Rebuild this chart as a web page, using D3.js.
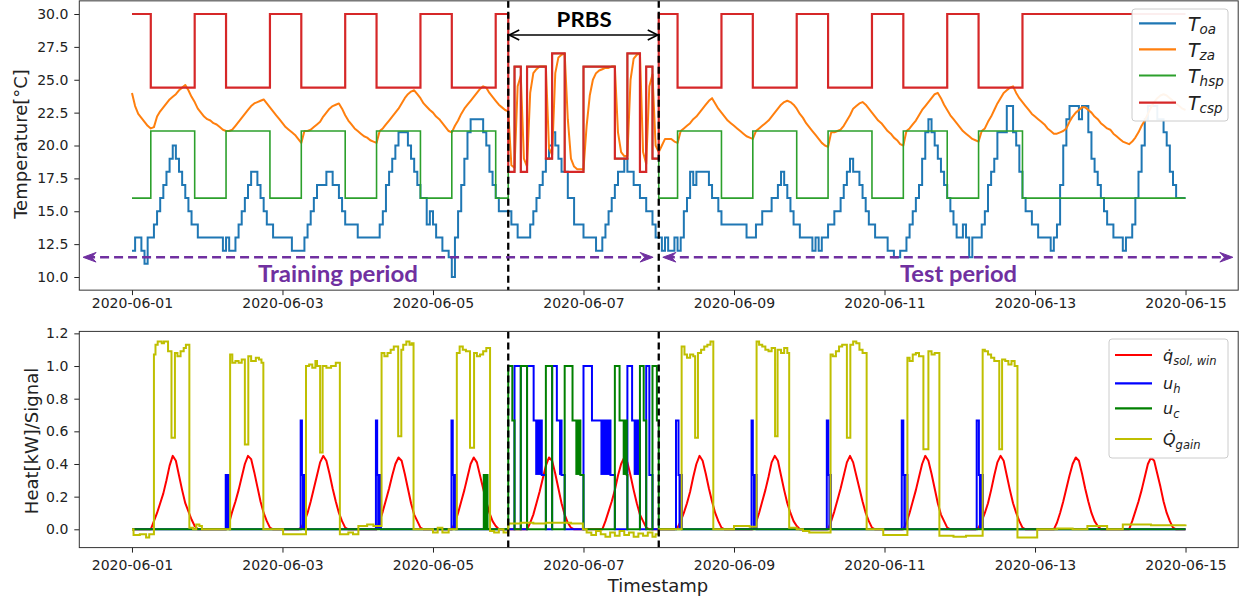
<!DOCTYPE html>
<html><head><meta charset="utf-8">
<script src="https://cdn.jsdelivr.net/npm/d3@7"></script>
<style>
body{margin:0;background:#fff;}
svg{display:block;}
</style></head><body>
<svg id="c" width="1242" height="603"></svg>
<script>
// ---------------- DATA ----------------
const xTickLabels = ["2020-06-01","2020-06-03","2020-06-05","2020-06-07","2020-06-09","2020-06-11","2020-06-13","2020-06-15"];
const yTopTicks = [10,12.5,15,17.5,20,22.5,25,27.5,30];
const yBotTicks = [0,0.2,0.4,0.6,0.8,1.0,1.2];

// Outdoor air temperature, hourly, one row per day (06-01 .. 06-14)
const toaDays = [
[12,13,13,12,11,13,13,14,15,16,17,18,19,20,19,18,17,16,15,14,14,13,13,13],
[13,13,13,13,13,12,13,12,12,13,14,15,16,17,18,18,17,16,15,14,14,13,13,13],
[13,13,13,12,12,12,12,13,14,15,16,17,17,17,18,18,17,17,16,15,14,14,14,14],
[13,13,13,13,13,13,13,14,15,17,18,19,20,21,21,21,20,19,18,17,16,16,14,15],
[14,13,13,12,12,11.5,10,13,15,17,19,21,22,22,22,22,21,20,18,17,16,15,15,15],
[15,14,14,13,13,13,13,14,15,16,17,18,19,20,21,20,19,18,18,16,16,14,14,14],
[13,13,13,13,12,12,13,14,15,16,17,18,18,19,18,18,17,17,16,16,15,15,14,13],
[13,12,13,12,12,13,12,13,15,16,18,17,18,18,18,18,17,16,16,15,14,14,14,14],
[14,14,14,14,13,13,13,14,14,15,15,15,16,16,17,18,17,16,15,14,14,13,13,13],
[13,12,13,12,13,13,14,14,15,15,16,17,18,19,18,18,17,16,15,14,14,13,13,13],
[13,12,12,11.5,11.5,12,12,13,14,15,16,17,19,21,22,21,20,19,18,17,16,15,14,13],
[13,14,13,11.5,13,13,13,14,15,17,18,19,21,21,21,23,23,21,20,18,16,15,15,14],
[14,13,13,13,13,12,13,14,17,20,22,23,23,23,22,23,23,21,19,18,17,16,15,14],
[14,13,13,13,12,13,13,14,16,18,20,22,23,23,23,22,22,21,20,18,17,16,16,16]
];
const toaEnd = 16;

// Zone air temperature, hourly, one row per day
const tzaDays = [
[24.0,23.0,22.4,22.1,21.8,21.5,21.3,21.4,22.2,22.6,22.9,23.2,23.5,23.7,23.9,24.2,24.4,24.6,24.2,23.7,23.3,22.8,22.5,22.2],
[22.0,21.9,21.7,21.6,21.4,21.2,21.1,21.1,21.2,21.5,21.8,22.1,22.4,22.7,23.0,23.2,23.3,23.4,23.5,23.2,22.9,22.6,22.3,22.0],
[21.7,21.4,21.2,21.0,20.8,20.5,20.2,21.1,21.1,21.2,21.4,21.6,21.8,22.2,22.5,22.8,23.0,23.1,23.2,22.8,22.3,21.9,21.6,21.3],
[21.1,20.9,20.7,20.6,20.4,20.3,20.2,21.1,21.3,21.6,21.9,22.2,22.5,22.8,23.2,23.6,23.9,24.1,24.2,23.9,23.6,23.2,22.95,22.7],
[22.5,22.2,22.0,21.7,21.4,21.1,21.0,21.5,21.9,22.4,22.8,23.1,23.4,23.7,24.0,24.3,24.5,24.4,24.0,23.7,23.4,23.1,22.9,22.7],
[22.6,18.5,18.3,24.5,25.3,19.0,18.4,24.0,25.5,25.8,26.0,26.0,26.0,19.8,19.3,25.5,26.7,26.9,27.0,22.0,19.0,18.4,18.2,18.2],
[18.2,21.5,23.8,25.0,25.5,25.7,25.8,25.9,25.9,26.0,26.0,21.0,19.5,19.2,19.2,25.0,26.6,26.9,27.0,19.5,18.6,24.5,25.4,20.0],
[19.5,20.0,20.5,20.5,20.5,20.3,20.2,21.1,21.3,21.5,21.7,22.0,22.2,22.5,22.8,23.1,23.4,23.6,23.2,22.8,22.5,22.2,21.9,21.7],
[21.5,21.3,21.1,20.9,20.7,20.6,20.5,21.1,21.3,21.5,21.7,21.9,22.2,22.5,22.8,23.1,23.3,23.4,23.3,23.1,22.8,22.4,22.1,21.7],
[21.4,21.1,20.8,20.5,20.2,20.0,19.9,21.0,21.0,21.1,21.2,21.5,21.9,22.3,22.8,23.0,23.2,23.3,23.1,22.8,22.5,22.2,21.9,21.7],
[21.4,21.1,20.9,20.6,20.4,20.1,20.0,21.1,21.3,21.6,21.9,22.3,22.7,23.0,23.3,23.6,23.9,24.0,23.6,23.1,22.7,22.3,22.0,21.7],
[21.4,21.1,20.9,20.7,20.5,20.4,20.3,21.1,21.3,21.8,22.2,22.7,23.2,23.6,24.0,24.2,24.4,24.5,24.0,23.6,23.3,23.0,22.7,22.4],
[22.2,22.0,21.8,21.6,21.3,21.1,20.9,20.9,21.0,21.1,21.3,21.8,22.2,22.5,22.7,22.9,22.9,22.7,22.5,22.2,22.0,21.7,21.5,21.3],
[21.2,20.9,20.7,20.5,20.3,20.2,20.1,20.3,20.6,21.0,21.5,21.9,22.4,22.9,23.3,23.6,23.8,23.9,23.8,23.6,23.4,23.2,23.0,22.8]
];
const tzaEnd = 22.7;

// Setpoint schedules: [hour since 06-01 00:00, value] (step after)
const thspSteps = [[0,16],[6,21.1],[20,16],[30,21.1],[44,16],[54,21.1],[68,16],[78,21.1],[92,16],[102,21.1],[116,16],
 [120,18],[122,26],[124,18],[126,26],[132,19],[134,27],[138,18],[144,26],[154,19],[158,27],[162,18],[164,26],[166,19],
 [168,16],[174,21.1],[188,16],[198,21.1],[212,16],[222,21.1],[236,16],[246,21.1],[260,16],[270,21.1],[284,16],[336,16]];
const tcspSteps = [[0,30],[6,24.4],[20,30],[30,24.4],[44,30],[54,24.4],[68,30],[78,24.4],[92,30],[102,24.4],[116,30],
 [120,18],[122,26],[124,18],[126,26],[132,19],[134,27],[138,18],[144,26],[154,19],[158,27],[162,18],[164,26],[166,19],
 [168,30],[174,24.4],[188,30],[198,24.4],[212,30],[222,24.4],[236,30],[246,24.4],[260,30],[270,24.4],[284,30],[336,30]];

// Solar heat through windows, hourly, one row per day
const qsolDays = [
[0,0,0,0,0,0,0,0.05,0.10,0.16,0.22,0.30,0.39,0.45,0.42,0.33,0.24,0.16,0.11,0.06,0.02,0,0,0],
[0,0,0,0,0,0,0,0.04,0.11,0.17,0.24,0.32,0.40,0.45,0.43,0.35,0.26,0.17,0.10,0.05,0.01,0,0,0],
[0,0,0,0,0,0,0.01,0.05,0.10,0.17,0.25,0.33,0.41,0.45,0.42,0.34,0.25,0.17,0.10,0.05,0.01,0,0,0],
[0,0,0,0,0,0,0,0.05,0.11,0.18,0.25,0.33,0.40,0.44,0.42,0.34,0.25,0.16,0.09,0.05,0.01,0,0,0],
[0,0,0,0,0,0,0,0.04,0.10,0.17,0.24,0.32,0.40,0.44,0.41,0.33,0.25,0.17,0.10,0.05,0.02,0,0,0],
[0,0,0,0,0,0,0,0.04,0.09,0.16,0.23,0.31,0.39,0.44,0.42,0.34,0.25,0.16,0.09,0.04,0.01,0,0,0],
[0,0,0,0,0,0,0,0.05,0.11,0.17,0.24,0.33,0.40,0.44,0.41,0.33,0.24,0.16,0.09,0.05,0.01,0,0,0],
[0,0,0,0,0,0,0.01,0.05,0.10,0.16,0.23,0.32,0.40,0.45,0.42,0.34,0.25,0.17,0.10,0.05,0.01,0,0,0],
[0,0,0,0,0,0,0,0.04,0.10,0.17,0.24,0.32,0.41,0.45,0.42,0.33,0.24,0.16,0.10,0.05,0.02,0,0,0],
[0,0,0,0,0,0,0,0.05,0.11,0.18,0.25,0.33,0.41,0.45,0.41,0.33,0.25,0.17,0.10,0.05,0.01,0,0,0],
[0,0,0,0,0,0,0,0.04,0.10,0.17,0.24,0.32,0.40,0.45,0.42,0.34,0.25,0.16,0.09,0.05,0.01,0,0,0],
[0,0,0,0,0,0,0.01,0.05,0.10,0.16,0.24,0.33,0.41,0.45,0.42,0.33,0.24,0.16,0.10,0.05,0.01,0,0,0],
[0,0,0,0,0,0,0,0.04,0.10,0.17,0.25,0.33,0.40,0.44,0.42,0.34,0.25,0.17,0.10,0.05,0.02,0,0,0],
[0,0,0,0,0,0,0,0.05,0.11,0.17,0.24,0.32,0.40,0.44,0.42,0.34,0.26,0.17,0.10,0.05,0.01,0,0,0]
];

// Heating signal u_h: [hour, value] (step after)
const uhSteps = [[0,0],[29.9,0.333],[31.2,0],[53.8,0.667],[54.2,0.333],[55.2,0],[77.8,0.667],[78.2,0.333],[79.4,0],
 [101.9,0.667],[102.3,0.333],[103.4,0],
 [122,1],[124,0],[126,1],[128.1,0.667],[130.7,0.333],[132,0],[134,1],[135.5,0.667],[137,0.333],[138,0],
 [144,1],[146.7,0.667],[152.6,0.333],[154,0],[158,1],[159.5,0.667],[162,0],[164,1],[165,0.333],[166,0],
 [173.5,0.667],[174.3,0.333],[175.4,0],[197.6,0.667],[198,0.333],[199.2,0],[221.6,0.667],[222.1,0.333],[222.9,0],
 [245.5,0.667],[246,0.333],[247.3,0],[269.4,0.667],[270.1,0.333],[271.4,0],[336,0]];
// periods where u_h switches rapidly between two levels: [start h, end h, low, high]
const uhBands = [[29.9,31.2,0,0.333],[54.2,55.2,0,0.333],[78.2,79.4,0,0.333],[102.3,103.4,0,0.333],
 [128.6,130.7,0.333,0.667],[136.2,137.0,0.333,0.667],[149.4,152.6,0.333,0.667],[160,162,0.333,0.667],
 [174.3,175.4,0,0.333],[198,199.2,0,0.333],[222.1,222.9,0,0.333],[246,246.8,0,0.333],[270.1,271.4,0,0.333]];

// Cooling signal u_c
const ucSteps = [[0,0],[112.2,0.333],[112.6,0],[113.0,0.333],[113.4,0],
 [120,1],[121.3,0.667],[122,0],[124,1],[126,0],[132,1],[134,0],[138,1],[140.5,0.667],[143,0.333],[144,0],
 [154,1],[155.5,0.667],[157.8,0.333],[158,0],[162,1],[163.2,0.667],[164,0],[166,1],[167.4,0.667],[168,0],[336,0]];
const ucBands = [[141.4,143,0.333,0.667],[156.5,157.8,0.333,0.667]];

// Internal heat gain Q_gain: [hour, value] (step after)
const qgainSteps = [
[0,0.00],[0.5,-0.035],[2.5,-0.03],[4.5,-0.05],[5.5,-0.03],
[7.0,1.07],[7.5,1.13],[8.2,1.15],[9.5,1.14],[10.2,1.15],[11.5,1.09],[12.6,0.56],[13.7,1.08],[14.5,1.06],[15.5,1.09],[16.5,1.11],[17.2,1.13],
[18.3,0.01],[19.5,0.00],[20.5,0.03],[21.5,0.02],[22.3,0.00],
[31.3,1.07],[32,1.02],[33,1.03],[34,1.02],[35,1.04],[36.0,0.52],[37.1,1.06],[38,1.03],[39.5,1.05],[40.5,1.04],[41.3,1.02],
[41.9,0.00],[48.2,-0.03],
[55.5,1.00],[56.5,1.01],[57.5,0.99],[58.5,1.03],[59.0,1.00],[60.0,0.47],[60.8,1.00],[62,0.99],[63.5,1.00],[65,1.02],
[66.3,-0.03],[69,-0.02],[70.5,-0.03],[72.2,0.02],[75,0.03],[77,0.02],
[79.6,1.08],[80.5,1.06],[81.5,1.08],[82.5,1.10],[83.5,1.12],[84.9,0.57],[85.9,1.10],[86.5,1.13],[87.5,1.15],[88.5,1.13],[89.2,1.14],
[89.8,0.00],[96,-0.02],[97.5,0.01],[99,-0.02],[101,0.00],
[103.6,1.08],[104.5,1.12],[105.5,1.10],[106.5,1.09],[107.8,0.50],[109.1,1.08],[110,1.06],[111,1.07],[112,1.09],[113,1.11],
[114.2,-0.01],[115.5,-0.02],[117,0.00],[118.5,-0.02],
[120,0.035],[124,0.04],[128,0.035],[132,0.04],[136,0.04],[140,0.035],
[143.8,0.00],[145,-0.02],[146.5,-0.035],[148,-0.01],[149.5,-0.03],[151,-0.045],[152.5,-0.02],[154,-0.04],[155.5,-0.01],[157,-0.035],[158.5,-0.02],[160,-0.045],[161.5,-0.025],[163,-0.04],[164.5,-0.02],[166,-0.045],[167,-0.03],
[168,0.00],[171,0.00],
[175.3,1.12],[176.2,1.07],[177,1.05],[178,1.07],[179,1.06],[179.6,0.56],[180.5,1.08],[181.5,1.10],[182.5,1.12],[183.5,1.13],[184.5,1.15],
[185.4,0.00],[192,0.02],[195,0.02],[197,0.015],
[199.2,1.15],[200,1.13],[201,1.12],[202,1.10],[203,1.09],[204,1.11],[205.1,0.57],[205.9,1.10],[207,1.08],[208,1.11],[209,1.08],
[209.6,0.01],[212,0.00],[214,-0.01],[216,-0.02],[219,-0.02],
[222.8,1.07],[223.5,1.06],[224.5,1.09],[225.5,1.12],[226.5,1.13],[228.0,0.56],[229.1,1.13],[230,1.15],[231,1.14],[232,1.10],[233,1.08],
[234.3,0.00],[239.6,-0.035],
[247.3,1.05],[248,1.03],[249,1.07],[250,1.08],[251,1.06],[252.4,0.49],[254.0,1.09],[255,1.07],[256,1.08],
[257.5,-0.04],[262,-0.045],[266,-0.04],
[271.3,1.10],[272,1.09],[273,1.07],[274,1.05],[275,1.03],[276.6,0.49],[277.5,1.04],[278.5,1.03],[279.5,1.01],[280.5,1.03],[281.5,1.00],
[282.4,-0.05],[288.7,0.00],[295,0.005],[300,0.00],[304.7,0.02],[311,0.00],[316,0.03],[325,0.025],[336,0.03]];

// Period markers (hours)
const prbsStart = 120, prbsEnd = 168;

// ---------------- SCALES ----------------
const t0 = Date.UTC(2020,5,1);
const hr = h => new Date(t0 + h*3600000);
const x = d3.scaleUtc().domain([hr(-16.8), hr(352.8)]).range([79.3, 1238.2]);
const yT = d3.scaleLinear().domain([9,31]).range([290.15,0.85]);
const yB = d3.scaleLinear().domain([-0.112,1.212]).range([547.6,331.4]);
const X = h => x(hr(h));

const svg = d3.select("#c");
const FONT = "DejaVu Sans, sans-serif";

function dayPts(days, end){
  const a=[]; days.forEach((r,d)=>r.forEach((v,i)=>a.push([d*24+i,v])));
  if(end!==undefined) a.push([336,end]); return a;
}

// clip paths
const defs = svg.append("defs");
defs.append("clipPath").attr("id","clipT").append("rect")
  .attr("x",x.range()[0]).attr("y",yT.range()[1]).attr("width",x.range()[1]-x.range()[0]).attr("height",yT.range()[0]-yT.range()[1]);
defs.append("clipPath").attr("id","clipB").append("rect")
  .attr("x",x.range()[0]).attr("y",yB.range()[1]).attr("width",x.range()[1]-x.range()[0]).attr("height",yB.range()[0]-yB.range()[1]);

// ---------------- TOP PANEL ----------------
const gT = svg.append("g").attr("clip-path","url(#clipT)");
const stepT = d3.line().x(d=>X(d[0])).y(d=>yT(d[1])).curve(d3.curveStepAfter);
const linT = d3.line().x(d=>X(d[0])).y(d=>yT(d[1]));
const LW = 2.0;
gT.append("path").attr("d",stepT(dayPts(toaDays,toaEnd))).attr("fill","none").attr("stroke","#1f77b4").attr("stroke-width",LW);
gT.append("path").attr("d",linT(dayPts(tzaDays,tzaEnd))).attr("fill","none").attr("stroke","#ff7f0e").attr("stroke-width",LW).attr("stroke-linejoin","round");
gT.append("path").attr("d",stepT(thspSteps)).attr("fill","none").attr("stroke","#2ca02c").attr("stroke-width",LW-0.4);
gT.append("path").attr("d",stepT(tcspSteps)).attr("fill","none").attr("stroke","#d62728").attr("stroke-width",LW+0.2);

// ---------------- BOTTOM PANEL ----------------
const gB = svg.append("g").attr("clip-path","url(#clipB)");
const stepB = d3.line().x(d=>X(d[0])).y(d=>yB(d[1])).curve(d3.curveStepAfter);
const linB = d3.line().x(d=>X(d[0])).y(d=>yB(d[1]));
gB.append("path").attr("d",linB(dayPts(qsolDays,0))).attr("fill","none").attr("stroke","#ff0000").attr("stroke-width",LW).attr("stroke-linejoin","round");
gB.selectAll("rect.uh").data(uhBands).join("rect").attr("class","uh")
  .attr("x",d=>X(d[0])).attr("width",d=>X(d[1])-X(d[0])).attr("y",d=>yB(d[3])).attr("height",d=>yB(d[2])-yB(d[3])).attr("fill","#0000ff");
gB.append("path").attr("d",stepB(uhSteps)).attr("fill","none").attr("stroke","#0000ff").attr("stroke-width",LW);
gB.selectAll("rect.uc").data(ucBands).join("rect").attr("class","uc")
  .attr("x",d=>X(d[0])).attr("width",d=>X(d[1])-X(d[0])).attr("y",d=>yB(d[3])).attr("height",d=>yB(d[2])-yB(d[3])).attr("fill","#008000");
gB.append("path").attr("d",stepB(ucSteps)).attr("fill","none").attr("stroke","#008000").attr("stroke-width",LW);
gB.append("path").attr("d",stepB(qgainSteps)).attr("fill","none").attr("stroke","#bfbf00").attr("stroke-width",LW);

// ---------------- PRBS dashed lines ----------------
[[yT,gT],[yB,gB]].forEach(([ys,g])=>{
  [prbsStart,prbsEnd].forEach(h=>{
    g.append("line").attr("x1",X(h)).attr("x2",X(h)).attr("y1",ys.range()[1]).attr("y2",ys.range()[0])
     .attr("stroke","#000").attr("stroke-width",2.3).attr("stroke-dasharray","7,4");
  });
});

// ---------------- AXES ----------------
const xTicks = xTickLabels.map(s=>new Date(s+"T00:00:00Z"));
function xAxis(y0,pad){
  const g = svg.append("g").attr("transform",`translate(0,${y0})`)
    .call(d3.axisBottom(x).tickValues(xTicks).tickFormat(d3.utcFormat("%Y-%m-%d")).tickSize(5).tickPadding(pad).tickSizeOuter(0));
  g.select(".domain").remove();
  g.attr("font-size",14).attr("font-family",FONT);
  g.selectAll("text").attr("fill","#222");
  g.selectAll("line").attr("stroke","#222");
}
function yAxis(ys,ticks){
  const g = svg.append("g").attr("transform",`translate(${x.range()[0]},0)`)
    .call(d3.axisLeft(ys).tickValues(ticks).tickFormat(d3.format(".1f")).tickSize(5).tickPadding(6).tickSizeOuter(0));
  g.select(".domain").remove();
  g.attr("font-size",14).attr("font-family",FONT);
  g.selectAll("text").attr("fill","#222");
  g.selectAll("line").attr("stroke","#222");
}
xAxis(yT.range()[0],3.2);
xAxis(yB.range()[0],7);
yAxis(yT,yTopTicks);
yAxis(yB,yBotTicks);
[yT,yB].forEach(ys=>{
  svg.append("rect").attr("x",x.range()[0]).attr("y",ys.range()[1]).attr("width",x.range()[1]-x.range()[0])
    .attr("height",ys.range()[0]-ys.range()[1]).attr("fill","none").attr("stroke","#333").attr("stroke-width",1);
});

// axis labels
svg.append("text").attr("transform","translate(26.5,144) rotate(-90)").attr("text-anchor","middle")
  .attr("font-family",FONT).attr("font-size",18).attr("fill","#222").text("Temperature[°C]");
svg.append("text").attr("transform","translate(38,441) rotate(-90)").attr("text-anchor","middle")
  .attr("font-family",FONT).attr("font-size",18).attr("fill","#222").text("Heat[kW]/Signal");
svg.append("text").attr("x",658).attr("y",591.5).attr("text-anchor","middle")
  .attr("font-family",FONT).attr("font-size",18).attr("fill","#222").text("Timestamp");

// ---------------- ANNOTATIONS ----------------
function head(g,tx,ty,dir,len,half,color,filled,sw){
  const bx = tx - dir*len;
  if(filled){
    g.append("path").attr("d",`M${tx},${ty} L${bx},${ty-half} L${tx-dir*len*0.65},${ty} L${bx},${ty+half} Z`)
     .attr("fill",color).attr("stroke",color).attr("stroke-width",1).attr("stroke-linejoin","miter");
  } else {
    g.append("path").attr("d",`M${bx},${ty-half} L${tx},${ty} L${bx},${ty+half}`)
     .attr("fill","none").attr("stroke",color).attr("stroke-width",sw);
  }
}
const ann = svg.append("g");
// PRBS arrow
const ay = yT(28.4);
ann.append("line").attr("x1",X(prbsStart)+1).attr("x2",X(prbsEnd)-1).attr("y1",ay).attr("y2",ay).attr("stroke","#000").attr("stroke-width",1.6);
head(ann,X(prbsStart)+1,ay,-1,10,5,"#000",false,1.6);
head(ann,X(prbsEnd)-1,ay,1,10,5,"#000",false,1.6);
ann.append("text").attr("x",X(144.2)).attr("y",yT(29.03)).attr("text-anchor","middle")
  .attr("font-family","Lato, Open Sans, sans-serif").attr("font-weight","bold").attr("font-size",21)
  .attr("textLength",55).attr("lengthAdjust","spacingAndGlyphs").attr("fill","#000").text("PRBS");
// Training / Test arrows
const py = yT(11.5), PURPLE = "#7030a0";
[[-15.6,166.2],[169.3,351.1]].forEach(([a,b])=>{
  ann.append("line").attr("x1",X(a)+3).attr("x2",X(b)-3).attr("y1",py).attr("y2",py)
    .attr("stroke",PURPLE).attr("stroke-width",2.6).attr("stroke-dasharray","9,5");
  head(ann,X(a),py,-1,13,4.8,PURPLE,true);
  head(ann,X(b),py,1,13,4.8,PURPLE,true);
});
ann.append("text").attr("x",X(65.7)).attr("y",yT(9.62)).attr("text-anchor","middle")
  .attr("font-family","Lato, Open Sans, sans-serif").attr("font-weight","bold").attr("font-size",23)
  .attr("textLength",160).attr("lengthAdjust","spacingAndGlyphs").attr("fill",PURPLE).text("Training period");
ann.append("text").attr("x",X(263.6)).attr("y",yT(9.62)).attr("text-anchor","middle")
  .attr("font-family","Lato, Open Sans, sans-serif").attr("font-weight","bold").attr("font-size",23)
  .attr("textLength",117).attr("lengthAdjust","spacingAndGlyphs").attr("fill",PURPLE).text("Test period");

// ---------------- LEGENDS ----------------
function legend(box, rows, lx1, lx2, tx, fs, sfs, subDy, baseOff){
  const g = svg.append("g");
  g.append("rect").attr("x",box[0]).attr("y",box[1]).attr("width",box[2]).attr("height",box[3]).attr("rx",3)
    .attr("fill","#fff").attr("fill-opacity",0.92).attr("stroke","#cccccc").attr("stroke-width",1);
  rows.forEach(r=>{
    g.append("line").attr("x1",lx1).attr("x2",lx2).attr("y1",r.y).attr("y2",r.y).attr("stroke",r.c).attr("stroke-width",LW+0.2);
    const t = g.append("text").attr("x",tx).attr("y",r.y+baseOff).attr("font-family",FONT).attr("font-style","italic")
      .attr("font-size",fs).attr("fill","#222");
    t.append("tspan").text(r.m);
    t.append("tspan").attr("font-size",sfs).attr("dy",subDy).text(r.s);
  });
}
legend([1132,9,96,112],[
  {y:23.3,c:"#1f77b4",m:"T",s:"oa"},
  {y:49.3,c:"#ff7f0e",m:"T",s:"za"},
  {y:75.5,c:"#2ca02c",m:"T",s:"hsp"},
  {y:102.7,c:"#d62728",m:"T",s:"csp"}],1139,1176,1188,19,13.5,3.5,7.2);
legend([1109,339,119,119],[
  {y:355,c:"#ff0000",m:"q\u0307",s:"sol, win"},
  {y:383.3,c:"#0000ff",m:"u",s:"h"},
  {y:408.3,c:"#008000",m:"u",s:"c"},
  {y:439,c:"#bfbf00",m:"Q\u0307",s:"gain"}],1115,1152,1163,16,11.5,4,5.5);
</script>
</body></html>
